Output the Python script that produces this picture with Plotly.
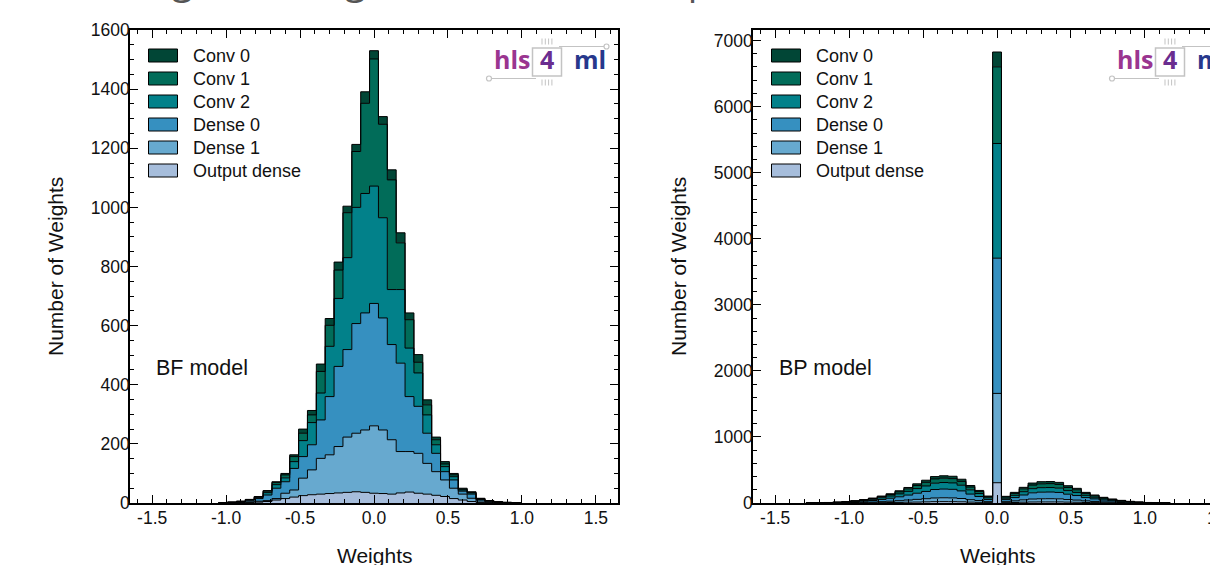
import numpy as np
import plotly.graph_objects as go

# ---------------- data ----------------
LAYERS = ["Conv 0", "Conv 1", "Conv 2", "Dense 0", "Dense 1", "Output dense"]
COLORS = ["#014636", "#016c59", "#02818a", "#3690c0", "#67a9cf", "#a6bddb"]
BIN_WIDTH = 0.06

BF_CENTERS = [-1.02, -0.96, -0.90, -0.84, -0.78, -0.72, -0.66, -0.60, -0.54, -0.48,
              -0.42, -0.36, -0.30, -0.24, -0.18, -0.12, -0.06, 0.00, 0.06, 0.12,
              0.18, 0.24, 0.30, 0.36, 0.42, 0.48, 0.54, 0.60, 0.66, 0.72,
              0.78, 0.84, 0.90, 0.96]
BF_OUTPUT = [0, 0, 1, 2, 3, 5, 10, 15, 20, 25, 28, 30, 32, 34, 36, 38, 36, 33, 32, 30,
             34, 37, 33, 30, 26, 22, 15, 10, 5, 2, 1, 1, 0, 0]
BF_DENSE1 = [0, 1, 1, 2, 3, 3, 5, 18, 24, 59, 84, 121, 131, 157, 187, 198, 211, 228, 215, 184,
             140, 137, 135, 104, 80, 56, 35, 20, 11, 5, 2, 1, 1, 0]
BF_DENSE0 = [1, 1, 2, 5, 9, 19, 35, 39, 73, 73, 85, 130, 197, 271, 296, 371, 396, 414, 379, 322,
             299, 186, 159, 102, 62, 28, 28, 10, 14, 5, 3, 1, 1, 1]
BF_CONV2 = [0, 1, 1, 2, 4, 8, 12, 13, 23, 54, 75, 91, 170, 230, 311, 393, 404, 397, 339, 186,
            249, 164, 113, 62, 29, 17, 11, 4, 4, 2, 1, 1, 0, 0]
BF_CONV1 = [0, 0, 1, 1, 2, 5, 7, 10, 17, 25, 26, 73, 71, 96, 152, 189, 305, 430, 316, 371,
            158, 96, 36, 34, 17, 9, 6, 3, 2, 1, 1, 0, 0, 0]
BF_CONV0 = [0, 0, 0, 0, 1, 2, 3, 5, 6, 14, 15, 25, 23, 27, 22, 24, 39, 28, 26, 34,
            34, 23, 26, 17, 9, 8, 5, 3, 2, 1, 0, 0, 0, 0]

BP_CENTERS = [-1.26, -1.20, -1.14, -1.08, -1.02, -0.96, -0.90, -0.84, -0.78, -0.72,
              -0.66, -0.60, -0.54, -0.48, -0.42, -0.36, -0.30, -0.24, -0.18, -0.12,
              -0.06, 0.00, 0.06, 0.12, 0.18, 0.24, 0.30, 0.36, 0.42, 0.48,
              0.54, 0.60, 0.66, 0.72, 0.78, 0.84, 0.90, 0.96, 1.02, 1.08, 1.14]
BP_OUTPUT = [0, 0, 0, 1, 1, 2, 3, 4, 5, 7, 9, 12, 14, 17, 20, 21, 20, 18, 13, 10, 5,
             307,
             5, 8, 12, 15, 16, 16, 16, 13, 11, 8, 6, 4, 3, 2, 1, 1, 0, 0, 0]
BP_DENSE1 = [0, 1, 1, 2, 3, 5, 7, 10, 15, 20, 26, 33, 41, 48, 56, 58, 57, 50, 37, 27, 15,
             1352,
             15, 24, 36, 45, 48, 49, 47, 39, 33, 24, 18, 13, 9, 6, 4, 2, 1, 1, 0]
BP_DENSE0 = [1, 2, 3, 4, 7, 11, 17, 24, 34, 45, 59, 75, 93, 110, 128, 132, 130, 115, 85, 61, 34,
             2047,
             31, 50, 73, 94, 100, 101, 97, 81, 69, 50, 38, 27, 19, 12, 8, 5, 3, 1, 1]
BP_CONV2 = [1, 1, 2, 3, 5, 8, 12, 18, 25, 34, 44, 56, 70, 83, 96, 99, 97, 86, 64, 45, 25,
            1736,
            21, 34, 50, 63, 68, 68, 65, 55, 47, 34, 25, 18, 13, 8, 5, 3, 2, 1, 1]
BP_CONV1 = [1, 1, 1, 3, 4, 6, 9, 12, 17, 22, 30, 38, 46, 55, 64, 66, 65, 58, 42, 30, 17,
            1160,
            19, 29, 43, 54, 58, 59, 56, 47, 40, 29, 22, 15, 11, 8, 5, 3, 1, 1, 0]
BP_CONV0 = [0, 0, 1, 1, 2, 3, 4, 7, 9, 12, 17, 21, 26, 32, 36, 36, 36, 33, 24, 17, 9,
            225,
            10, 16, 23, 31, 33, 32, 31, 27, 22, 16, 12, 9, 5, 4, 2, 1, 1, 0, 0]

X_TICKS = [-1.5, -1.0, -0.5, 0.0, 0.5, 1.0, 1.5]
X_TICK_TEXT = ["-1.5", "-1.0", "-0.5", "0.0", "0.5", "1.0", "1.5"]
BF_Y_TICKS = [0, 200, 400, 600, 800, 1000, 1200, 1400, 1600]
BP_Y_TICKS = [0, 1000, 2000, 3000, 4000, 5000, 6000, 7000]
PANEL_LABELS = ["BF model", "BP model"]
TITLE_TEXT = "Weights histograms: default and pruned (BF versus BP)"

BF_DATA = {"Conv 0": BF_CONV0, "Conv 1": BF_CONV1, "Conv 2": BF_CONV2,
           "Dense 0": BF_DENSE0, "Dense 1": BF_DENSE1, "Output dense": BF_OUTPUT}
BP_DATA = {"Conv 0": BP_CONV0, "Conv 1": BP_CONV1, "Conv 2": BP_CONV2,
           "Dense 0": BP_DENSE0, "Dense 1": BP_DENSE1, "Output dense": BP_OUTPUT}

# ---------------- geometry helpers ----------------
W, H = 1210, 565
def px(x):
    return x / W
def py(y):
    return 1 - y / H

TOP, BOTTOM = 30, 503
PANELS = [dict(x0=130, x1=618, xa="x", ya="y"),
          dict(x0=753, x1=1210, xa="x2", ya="y2")]
X_SCALE = 488 / 3.3   # px per unit of weight

FONT = "Liberation Sans, Arial, Helvetica, sans-serif"
LOGO_FONT = "Open Sans, Lato, sans-serif"

fig = go.Figure()

def add_stack(centers, data, xa, ya):
    c = np.array(centers, dtype=float)
    edges = np.concatenate([c - BIN_WIDTH / 2, [c[-1] + BIN_WIDTH / 2]])
    x = np.concatenate([[edges[0]], edges, [edges[-1]]])
    cum = np.zeros(len(c))
    first = True
    for name, color in reversed(list(zip(LAYERS, COLORS))):
        cum = cum + np.array(data[name], dtype=float)
        y = np.concatenate([[0.0], cum, [cum[-1]], [0.0]])
        fig.add_trace(go.Scatter(
            x=x, y=y, mode="lines", name=name,
            line=dict(shape="hv", color="black", width=1),
            fill="tozeroy" if first else "tonexty", fillcolor=color,
            xaxis=xa, yaxis=ya, showlegend=False, hoverinfo="skip"))
        first = False

add_stack(BF_CENTERS, BF_DATA, "x", "y")
add_stack(BP_CENTERS, BP_DATA, "x2", "y2")

def xaxis_style(domain, rng, mirror):
    return dict(domain=domain, range=rng, tickmode="array", tickvals=X_TICKS,
                ticktext=X_TICK_TEXT, ticks="inside", ticklen=8, tickwidth=1,
                tickcolor="black", showline=True, linecolor="black", linewidth=1.5,
                mirror=mirror, showgrid=False, zeroline=False, ticklabelstandoff=-2,
                tickfont=dict(family=FONT, size=17.5, color="#111111"),
                minor=dict(tickmode="linear", tick0=0, dtick=0.1, ticks="inside",
                           ticklen=4, tickwidth=1, tickcolor="black", showgrid=False))

def yaxis_style(domain, rng, ticks, minor_dtick, mirror, anchor):
    return dict(domain=domain, range=rng, tickmode="array", tickvals=ticks,
                ticktext=[str(t) for t in ticks], ticks="inside", ticklen=8,
                tickwidth=1, tickcolor="black", showline=True, linecolor="black",
                linewidth=1.5, mirror=mirror, showgrid=False, zeroline=False,
                anchor=anchor, ticklabelstandoff=-5,
                tickfont=dict(family=FONT, size=17.5, color="#111111"),
                minor=dict(tickmode="linear", tick0=0, dtick=minor_dtick, ticks="inside",
                           ticklen=4, tickwidth=1, tickcolor="black", showgrid=False))

ydom = [py(BOTTOM), py(TOP)]
fig.update_layout(
    width=W, height=H, margin=dict(l=0, r=0, t=0, b=0, autoexpand=False),
    paper_bgcolor="white", plot_bgcolor="white",
    font=dict(family=FONT, color="black"),
    showlegend=False,
    xaxis=dict(**xaxis_style([px(130), px(618)], [-1.65, 1.65], "allticks"), anchor="y"),
    yaxis=yaxis_style(ydom, [0, 1600], BF_Y_TICKS, 50, "allticks", "x"),
    xaxis2=dict(**xaxis_style([px(753), 1.0], [-1.65, 1.44], "allticks"), anchor="y2"),
    yaxis2=yaxis_style(ydom, [0, 7160], BP_Y_TICKS, 200, False, "x2"),
)

shapes = []
annotations = []

# truncated figure title (only descenders visible at the top edge)
annotations.append(dict(text=TITLE_TEXT, x=px(104), y=py(-21), xref="paper", yref="paper",
                        xanchor="left", yanchor="middle", showarrow=False,
                        font=dict(family="Open Sans, sans-serif", size=38, color="#555555")))

for i, p in enumerate(PANELS):
    x0 = p["x0"]
    # manual matplotlib-style legend
    for j, (name, color) in enumerate(zip(LAYERS, COLORS)):
        cy = 55.5 + 23 * j
        shapes.append(dict(type="rect", xref="paper", yref="paper",
                           x0=px(x0 + 18.5), x1=px(x0 + 47.5),
                           y0=py(cy - 6.5), y1=py(cy + 6.5),
                           fillcolor=color, line=dict(color="black", width=1)))
        annotations.append(dict(text=name, x=px(x0 + 61), y=py(cy), xref="paper", yref="paper",
                                xanchor="left", yanchor="middle", showarrow=False,
                                font=dict(family=FONT, size=18, color="#111111")))
    # model label
    annotations.append(dict(text=PANEL_LABELS[i], x=px(x0 + 24), y=py(368), xref="paper",
                            yref="paper", xanchor="left", yanchor="middle", showarrow=False,
                            font=dict(family=FONT, size=21.5, color="#111111")))
    # axis titles
    annotations.append(dict(text="Number of Weights", x=px(x0 - 75), y=py(267), xref="paper",
                            yref="paper", xanchor="center", yanchor="middle", textangle=-90,
                            showarrow=False, font=dict(family=FONT, size=21, color="#111111")))
    annotations.append(dict(text="Weights", x=px(x0 + 244.5), y=py(555), xref="paper",
                            yref="paper", xanchor="center", yanchor="middle",
                            showarrow=False, font=dict(family=FONT, size=21, color="#111111")))
    # hls4ml logo
    lx = x0 + 1
    gray = "#c3c3c3"
    shapes.append(dict(type="rect", xref="paper", yref="paper",
                       x0=px(lx + 401.5), x1=px(lx + 430.5), y0=py(76), y1=py(48),
                       line=dict(color=gray, width=1.5), fillcolor="rgba(0,0,0,0)"))
    for k in range(4):
        xx = lx + 411 + 3.3 * k
        shapes.append(dict(type="line", xref="paper", yref="paper",
                           x0=px(xx), x1=px(xx), y0=py(38.5), y1=py(44.5),
                           line=dict(color=gray, width=1)))
        shapes.append(dict(type="line", xref="paper", yref="paper",
                           x0=px(xx), x1=px(xx), y0=py(79.5), y1=py(85.5),
                           line=dict(color=gray, width=1)))
    shapes.append(dict(type="line", xref="paper", yref="paper",
                       x0=px(lx + 361), x1=px(lx + 405), y0=py(78.5), y1=py(78.5),
                       line=dict(color=gray, width=1.2)))
    shapes.append(dict(type="circle", xref="paper", yref="paper",
                       x0=px(lx + 355.5), x1=px(lx + 360.5), y0=py(81), y1=py(76),
                       line=dict(color=gray, width=1.2), fillcolor="white"))
    shapes.append(dict(type="line", xref="paper", yref="paper",
                       x0=px(lx + 428), x1=px(lx + 473), y0=py(46.5), y1=py(46.5),
                       line=dict(color=gray, width=1.2)))
    shapes.append(dict(type="circle", xref="paper", yref="paper",
                       x0=px(lx + 473), x1=px(lx + 478), y0=py(49), y1=py(44),
                       line=dict(color=gray, width=1.2), fillcolor="white"))
    annotations.append(dict(text="<b>hls</b>", x=px(lx + 361), y=py(59), xref="paper",
                            yref="paper", xanchor="left", yanchor="middle", showarrow=False,
                            font=dict(family=LOGO_FONT, size=25, color="#9a3590")))
    annotations.append(dict(text="<b>4</b>", x=px(lx + 416), y=py(59), xref="paper",
                            yref="paper", xanchor="center", yanchor="middle", showarrow=False,
                            font=dict(family=LOGO_FONT, size=25, color="#6a2d8f")))
    annotations.append(dict(text="<b>ml</b>", x=px(lx + 441), y=py(59), xref="paper",
                            yref="paper", xanchor="left", yanchor="middle", showarrow=False,
                            font=dict(family=LOGO_FONT, size=25, color="#27388c")))

# tick label of the right panel that falls past the cropped edge
zero_px_right = 753 + 1.65 * X_SCALE
annotations.append(dict(text="1.5", x=px(zero_px_right + 1.5 * X_SCALE), y=py(518),
                        xref="paper", yref="paper",
                        xanchor="center", yanchor="middle", showarrow=False,
                        font=dict(family=FONT, size=17.5, color="#111111")))

fig.update_layout(shapes=shapes, annotations=annotations)
fig.write_html("out.html", config={"displayModeBar": False},
               post_script="document.body.style.margin='0';document.body.style.overflow='hidden';")
